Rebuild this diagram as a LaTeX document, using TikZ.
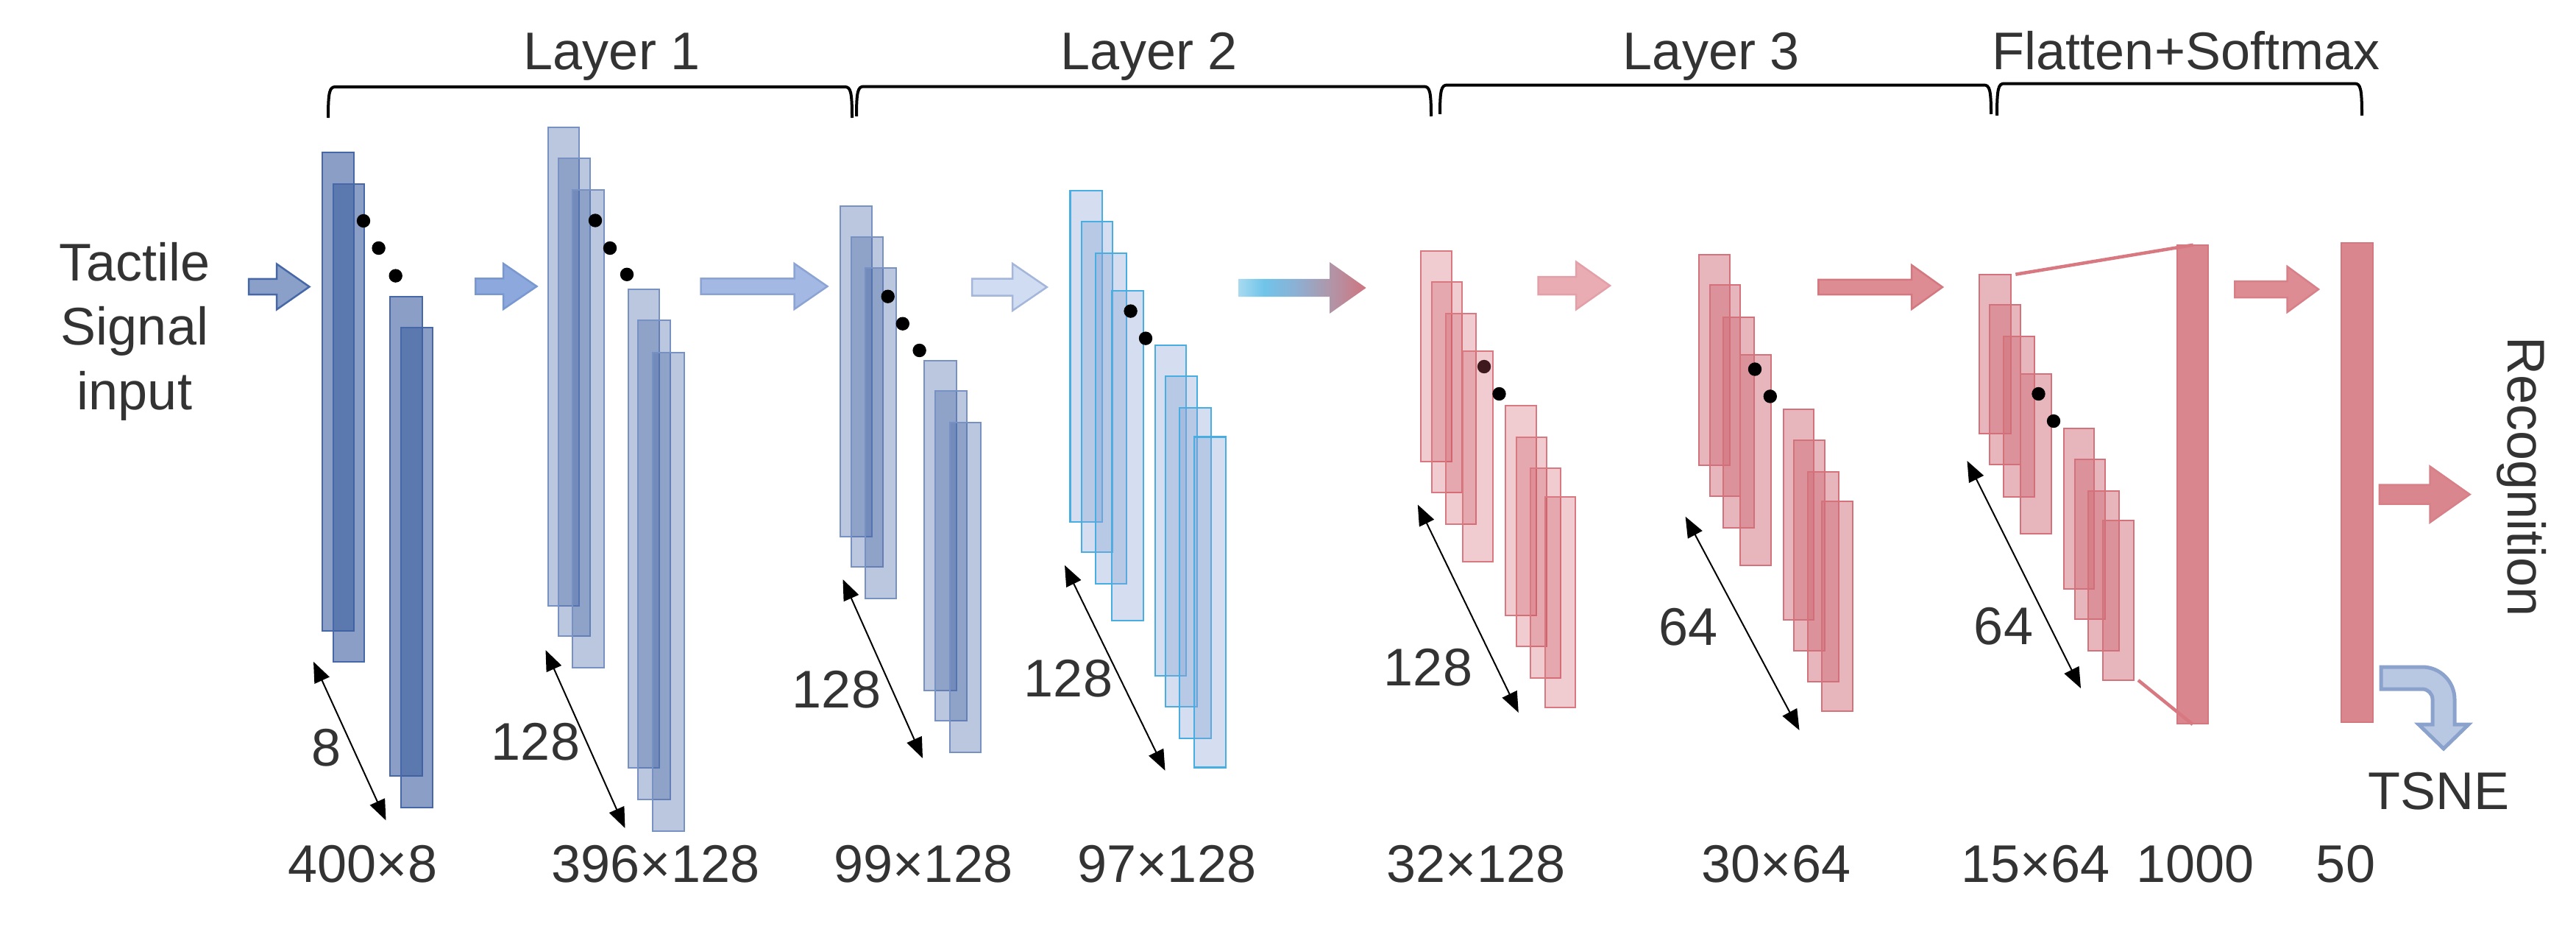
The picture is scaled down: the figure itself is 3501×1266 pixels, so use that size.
\documentclass[tikz,border=0pt]{standalone}
\usepackage{fontspec}
\setmainfont{Liberation Sans}
\usetikzlibrary{arrows.meta}
\definecolor{txt}{HTML}{333333}
\definecolor{blueA}{HTML}{3D5FA0}
\definecolor{blueAline}{HTML}{4668A8}
\definecolor{blueBline}{HTML}{7891C3}
\definecolor{cyanfill}{HTML}{84A1D4}
\definecolor{cyanline}{HTML}{48AEE2}
\definecolor{pinkA}{HTML}{CD5562}
\definecolor{pinkAline}{HTML}{D87880}
\definecolor{pinkB}{HTML}{D06E79}
\definecolor{pinkBline}{HTML}{D4727C}
\definecolor{barfill}{HTML}{DA868E}
\definecolor{barline}{HTML}{D47880}
\definecolor{g1}{HTML}{A8DAF0}
\definecolor{g2}{HTML}{70C4EA}
\definecolor{g3}{HTML}{8CB0D4}
\definecolor{g4}{HTML}{B096A8}
\definecolor{g5}{HTML}{D07480}
\definecolor{arAf}{HTML}{8AA0C8}
\definecolor{arBf}{HTML}{8CA8DC}
\definecolor{arBl}{HTML}{7A98D0}
\definecolor{arCf}{HTML}{A4B8E4}
\definecolor{arCl}{HTML}{8CA4D4}
\definecolor{arDf}{HTML}{D0DCF2}
\definecolor{arDl}{HTML}{A4B6DA}
\definecolor{arEf}{HTML}{E8ACB2}
\definecolor{arEl}{HTML}{E4A0A8}
\definecolor{arFf}{HTML}{DE8C94}
\definecolor{arFl}{HTML}{D88088}
\definecolor{tsnef}{HTML}{B8C8E2}
\definecolor{tsnel}{HTML}{8AA2CC}
\pgfdeclarehorizontalshading{gradarrow}{100bp}{color(0bp)=(g1); color(25bp)=(g1); color(35bp)=(g2); color(47.5bp)=(g3); color(61bp)=(g4); color(75bp)=(g5); color(100bp)=(g5)}
\newcommand{\rr}[5]{\draw[#1] (#2,#3) rectangle (#4,#5);}
\newcommand{\blockarr}[7]{\path[#1] (#2,#5-#6) -- (#3,#5-#6) -- (#3,#5-#7) -- (#4,#5) -- (#3,#5+#7) -- (#3,#5+#6) -- (#2,#5+#6) -- cycle;}
\newcommand{\bracepath}[4]{\draw[bracestyle] (#1,#4) .. controls (#1,#3+6) and (#1+2,#3) .. (#1+10,#3) -- (#2-10,#3) .. controls (#2-2,#3) and (#2,#3+6) .. (#2,#4);}
\newcommand{\dotat}[2]{\fill[black] (#1,#2) circle[radius=9.2];}
\tikzset{
  lab/.style={text=txt, font=\fontsize{72}{86}\selectfont, inner sep=0pt, anchor=base},
  dimarrow/.style={draw=black, line width=2pt, {Triangle[length=28pt,width=22pt]}-{Triangle[length=28pt,width=22pt]}},
  bracestyle/.style={draw=black, line width=4pt},
  bA/.style={fill=blueA, fill opacity=0.6, draw=blueAline, line width=2pt},
  bB/.style={fill=blueA, fill opacity=0.35, draw=blueBline, line width=2pt},
  cB/.style={fill=cyanfill, fill opacity=0.35, draw=cyanline, line width=2.2pt},
  pA/.style={fill=pinkA, fill opacity=0.3, draw=pinkAline, line width=2pt},
  pB/.style={fill=pinkB, fill opacity=0.5, draw=pinkBline, line width=2pt},
  barst/.style={fill=barfill, draw=barline, line width=2pt},
  proj/.style={draw=pinkAline, line width=4.5pt},
}
\begin{document}
\begin{tikzpicture}[x=1pt,y=-1pt]
\useasboundingbox (0,0) rectangle (3501,1266);

% ---------- braces and titles ----------
\bracepath{446}{1158}{118}{160}
\bracepath{1164}{1945}{117.5}{158}
\bracepath{1957}{2706}{115.5}{155}
\bracepath{2714}{3210}{113.5}{157}
\node[lab] (t1) at (832,94) {Layer 1};
\node[lab] (t2) at (1562,94) {Layer 2};
\node[lab] (t3) at (2326,94) {Layer 3};
\node[lab] (t4) at (2971,94) {Flatten+Softmax};

% ---------- input text ----------
\node[lab] (in1) at (183,381) {Tactile};
\node[lab] (in2) at (183,468) {Signal};
\node[lab] (in3) at (183,556) {input};

% ---------- block arrows ----------
\blockarr{fill=arAf, draw=blueAline, line width=2.5pt}{338}{376}{420.5}{389.5}{10.6}{31}
\blockarr{fill=arBf, draw=arBl, line width=2.5pt}{646.4}{684}{729.5}{389}{10.6}{31}
\blockarr{fill=arCf, draw=arCl, line width=2.5pt}{952.7}{1079.5}{1124.5}{389}{10.6}{31}
\blockarr{fill=arDf, draw=arDl, line width=2.5pt}{1321}{1376}{1422.8}{390}{11.5}{32}
\blockarr{shade, shading=gradarrow}{1683}{1807}{1856.6}{391}{12.2}{35}
\blockarr{fill=arEf, draw=arEl, line width=2.5pt}{2090.6}{2142}{2188}{388}{12}{32.4}
\blockarr{fill=arFf, draw=barline, line width=2.5pt}{2471.4}{2598}{2640}{390}{10.2}{30}
\blockarr{fill=arFf, draw=arFl, line width=2.5pt}{3037.4}{3108.6}{3151}{393}{11}{31}
\blockarr{fill=barfill, draw=arFl, line width=2.5pt}{3233.8}{3302.6}{3356.6}{671.6}{13}{38}

% ---------- Layer 1, group 1 ----------
\rr{bA}{437.5}{207}{481}{857}
\rr{bA}{452.7}{249.6}{495}{899}
\rr{bA}{530}{403}{574}{1054}
\rr{bA}{544.6}{445}{588}{1096.6}
\dotat{494}{300}\dotat{514.6}{337}\dotat{537.7}{374.6}

% ---------- Layer 1, group 2 ----------
\rr{bB}{744.6}{172.8}{787}{822.6}
\rr{bB}{758.5}{214.8}{802}{864}
\rr{bB}{777.7}{257.5}{821}{907.3}
\rr{bB}{854}{393.4}{896}{1043.2}
\rr{bB}{867}{435.4}{911}{1086}
\rr{bB}{886.6}{478.8}{930}{1128.6}
\dotat{809}{299.5}\dotat{829}{337}\dotat{852}{372.8}

% ---------- Layer 2, group 1 ----------
\rr{bB}{1142}{279.5}{1185}{728.6}
\rr{bB}{1156.7}{321.5}{1200}{770}
\rr{bB}{1175.5}{363.5}{1218}{812.6}
\rr{bB}{1256}{489.5}{1300}{938}
\rr{bB}{1271}{530.8}{1314}{979}
\rr{bB}{1290.6}{573.5}{1333}{1022}
\dotat{1206.7}{402.7}\dotat{1226.8}{439.7}\dotat{1249.6}{476}

% ---------- Layer 2, group 2 ----------
\rr{cB}{1454.5}{258.9}{1498}{708.7}
\rr{cB}{1469.6}{300.9}{1512}{750}
\rr{cB}{1488.8}{343.6}{1531}{792.7}
\rr{cB}{1510.7}{394.8}{1554}{843.2}
\rr{cB}{1570}{468.9}{1612}{918}
\rr{cB}{1584}{510.9}{1627}{960}
\rr{cB}{1602.7}{553.6}{1646}{1002.7}
\rr{cB}{1622.7}{593.4}{1666}{1042.5}
\dotat{1536.6}{422.6}\dotat{1557}{459.6}

% ---------- Layer 3, group 1 ----------
\rr{pA}{1931}{340.7}{1973}{626.5}
\rr{pA}{1946}{382.9}{1987}{668.7}
\rr{pA}{1964.7}{425.6}{2006}{712}
\dotat{2017}{498}
\rr{pA}{1988}{476.8}{2029}{762.6}
\dotat{2037.5}{535}
\rr{pA}{2046}{551.4}{2088}{836}
\rr{pA}{2060.7}{593.5}{2102}{878}
\rr{pA}{2079.5}{635.6}{2121}{920.8}
\rr{pA}{2099.5}{675}{2141}{961}

% ---------- Layer 3, group 2 ----------
\rr{pB}{2308.5}{346}{2351}{631.7}
\rr{pB}{2323.7}{387.4}{2365}{673.9}
\rr{pB}{2342.4}{430.8}{2384}{716.6}
\rr{pB}{2364.7}{482}{2407}{767.8}
\rr{pB}{2423.7}{556}{2465}{841.7}
\rr{pB}{2438}{598}{2480}{883.8}
\rr{pB}{2456.7}{640.8}{2499}{926}
\rr{pB}{2476}{681}{2518}{966}
\dotat{2385}{501.5}\dotat{2405.8}{538.4}

% ---------- Flatten group ----------
\rr{pB}{2689.6}{372.5}{2732.6}{589}
\rr{pB}{2704}{414}{2746.4}{631}
\rr{pB}{2723.4}{456.7}{2765.3}{674.5}
\rr{pB}{2746.4}{508}{2788.3}{725}
\rr{pB}{2805}{581.8}{2846.3}{799.6}
\rr{pB}{2820}{624}{2861}{841}
\rr{pB}{2837.7}{666.7}{2880}{883.8}
\rr{pB}{2857.7}{707}{2899.7}{924}
\dotat{2770.5}{535}\dotat{2791}{572}

% ---------- dense bars and projection ----------
\rr{barst}{2958.8}{333}{3000.7}{983}
\rr{barst}{3181.5}{330.4}{3224.6}{981}
\coordinate (pt1) at (2739.3,372.7);
\coordinate (pt2) at (2980.7,332.7);
\coordinate (pb1) at (2906,924);
\coordinate (pb2) at (2980,984);
\draw[proj] (pt1) -- (pt2);
\draw[proj] (pb1) -- (pb2);

% ---------- TSNE bent arrow ----------
\path[fill=tsnef, draw=tsnel, line width=5pt, line join=miter]
  (3236,906) -- (3292,906) .. controls (3316.3,906) and (3336,925.7) .. (3336,950)
  -- (3336,984) -- (3355,984) -- (3321,1017) -- (3287,984) -- (3306,984) -- (3306,950)
  .. controls (3306,942.3) and (3299.7,936) .. (3292,936) -- (3236,936) -- cycle;

% ---------- dimension arrows ----------
\coordinate (d1a) at (426,898.8);   \coordinate (d1b) at (524.5,1114.4);
\coordinate (d2a) at (741.5,883);   \coordinate (d2b) at (849.5,1125);
\coordinate (d3a) at (1145.5,787);  \coordinate (d3b) at (1254,1030);
\coordinate (d4a) at (1447,767.8);  \coordinate (d4b) at (1583.5,1046.8);
\coordinate (d5a) at (1926.8,685.5);\coordinate (d5b) at (2063.8,968);
\coordinate (d6a) at (2290.6,701.7);\coordinate (d6b) at (2445.5,992);
\coordinate (d7a) at (2673.5,626);  \coordinate (d7b) at (2828,935);
\draw[dimarrow] (d1a) -- (d1b);
\draw[dimarrow] (d2a) -- (d2b);
\draw[dimarrow] (d3a) -- (d3b);
\draw[dimarrow] (d4a) -- (d4b);
\draw[dimarrow] (d5a) -- (d5b);
\draw[dimarrow] (d6a) -- (d6b);
\draw[dimarrow] (d7a) -- (d7b);

% ---------- depth labels ----------
\node[lab] (k1) at (444,1040) {8};
\node[lab] (k2) at (728,1032) {128};
\node[lab] (k3) at (1137,961) {128};
\node[lab] (k4) at (1452,946) {128};
\node[lab] (k5) at (1941,931) {128};
\node[lab] (k6) at (2294.6,876) {64};
\node[lab] (k7) at (2723,875) {64};

% ---------- size labels ----------
\node[lab] (s1) at (493,1198) {400×8};
\node[lab] (s2) at (891,1198) {396×128};
\node[lab] (s3) at (1255,1198) {99×128};
\node[lab] (s4) at (1586,1198) {97×128};
\node[lab] (s5) at (2006,1198) {32×128};
\node[lab] (s6) at (2414,1198) {30×64};
\node[lab] (s7) at (2766.6,1198) {15×64};
\node[lab] (s8) at (2983.6,1198) {1000};
\node[lab] (s9) at (3188,1198) {50};

% ---------- output labels ----------
\node[lab] (tsne) at (3314,1099) {TSNE};
\node[lab, rotate=-90] (rec) at (3408,647.6) {Recognition};
\end{tikzpicture}
\end{document}
